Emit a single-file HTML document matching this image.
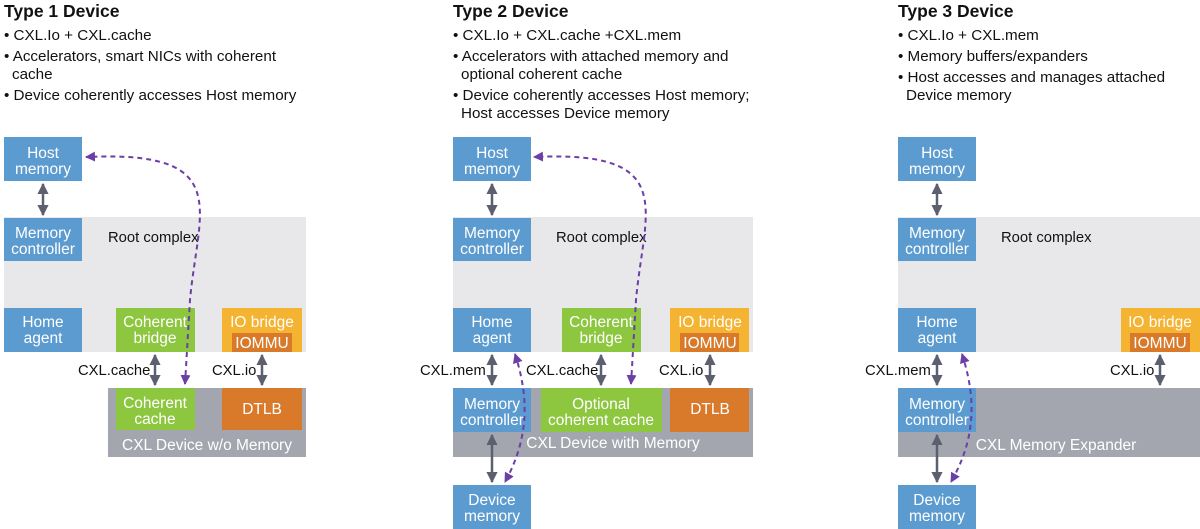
<!DOCTYPE html>
<html><head><meta charset="utf-8"><style>
html,body{margin:0;padding:0;background:#fff;}
svg{display:block;font-family:"Liberation Sans",sans-serif;}
.t{font-size:17.5px;font-weight:bold;fill:#111;}
.b{font-size:15.2px;fill:#111;}
.w{font-size:15.5px;fill:#fff;text-anchor:middle;}
.k{font-size:14.8px;fill:#111;}
.blue{fill:#5b9bd0;}
.green{fill:#8dc63f;}
.yel{fill:#f4b331;}
.org{fill:#d97a2b;}
.lg{fill:#e8e8ea;}
.dg{fill:#a3a6ae;}
.ga{stroke:#5c5f6e;stroke-width:2.5;fill:none;marker-start:url(#ag);marker-end:url(#ag);}
.pa{stroke:#6b3fa6;stroke-width:2;stroke-dasharray:5,4;fill:none;marker-start:url(#ap);marker-end:url(#ap);}
</style></head><body>
<svg width="1200" height="529" viewBox="0 0 1200 529" xmlns="http://www.w3.org/2000/svg">
<defs>
<marker id="ag" viewBox="0 0 10 10" refX="9" refY="5" markerWidth="4.5" markerHeight="4.5" orient="auto-start-reverse"><path d="M0,0 L10,5 L0,10 z" fill="#5c5f6e"/></marker>
<marker id="ap" viewBox="0 0 10 10" refX="9" refY="5" markerWidth="5" markerHeight="5" orient="auto-start-reverse"><path d="M0,0 L10,5 L0,10 z" fill="#6b3fa6"/></marker>
</defs>

<!-- ===== Panel 1 ===== -->
<text x="4" y="17" class="t">Type 1 Device</text>
<text x="4" y="40" class="b">• CXL.Io + CXL.cache</text>
<text x="4" y="61" class="b">• Accelerators, smart NICs with coherent</text>
<text x="12" y="79" class="b">cache</text>
<text x="4" y="100" class="b">• Device coherently accesses Host memory</text>

<rect x="4" y="217" width="302" height="135" class="lg"/>
<rect x="4" y="137" width="78" height="44" class="blue"/>
<text x="43" y="158" class="w">Host</text><text x="43" y="174" class="w">memory</text>
<rect x="4" y="218" width="78" height="43" class="blue"/>
<text x="43" y="238" class="w">Memory</text><text x="43" y="254" class="w">controller</text>
<text x="108" y="242" class="k">Root complex</text>
<rect x="4" y="308" width="78" height="44" class="blue"/>
<text x="43" y="327" class="w">Home</text><text x="43" y="343" class="w">agent</text>
<rect x="116" y="308" width="79" height="44" class="green"/>
<text x="155" y="327" class="w">Coherent</text><text x="155" y="343" class="w">bridge</text>
<rect x="222" y="308" width="80" height="44" class="yel"/>
<rect x="232" y="333" width="60" height="19" class="org"/>
<text x="262" y="327" class="w">IO bridge</text><text x="262" y="348" class="w">IOMMU</text>

<rect x="108" y="388" width="198" height="69" class="dg"/>
<rect x="116" y="388" width="79" height="42" class="green"/>
<text x="155" y="408" class="w">Coherent</text><text x="155" y="424" class="w">cache</text>
<rect x="222" y="388" width="80" height="42" class="org"/>
<text x="262" y="414" class="w">DTLB</text>
<text x="207" y="450" class="w">CXL Device w/o Memory</text>

<line x1="43" y1="184" x2="43" y2="215" class="ga"/>
<text x="78" y="375" class="k">CXL.cache</text>
<line x1="155" y1="355" x2="155" y2="385" class="ga"/>
<text x="212" y="375" class="k">CXL.io</text>
<line x1="262" y1="355" x2="262" y2="385" class="ga"/>
<path d="M185,384 L190,300 C198,210 235,150 86,157" class="pa"/>

<!-- ===== Panel 2 ===== -->
<text x="453" y="17" class="t">Type 2 Device</text>
<text x="453" y="40" class="b">• CXL.Io + CXL.cache +CXL.mem</text>
<text x="453" y="61" class="b">• Accelerators with attached memory and</text>
<text x="461" y="79" class="b">optional coherent cache</text>
<text x="453" y="100" class="b">• Device coherently accesses Host memory;</text>
<text x="461" y="118" class="b">Host accesses Device memory</text>

<rect x="453" y="217" width="300" height="135" class="lg"/>
<rect x="453" y="137" width="78" height="44" class="blue"/>
<text x="492" y="158" class="w">Host</text><text x="492" y="174" class="w">memory</text>
<rect x="453" y="218" width="78" height="43" class="blue"/>
<text x="492" y="238" class="w">Memory</text><text x="492" y="254" class="w">controller</text>
<text x="556" y="242" class="k">Root complex</text>
<rect x="453" y="308" width="78" height="44" class="blue"/>
<text x="492" y="327" class="w">Home</text><text x="492" y="343" class="w">agent</text>
<rect x="562" y="308" width="79" height="44" class="green"/>
<text x="601" y="327" class="w">Coherent</text><text x="601" y="343" class="w">bridge</text>
<rect x="670" y="308" width="79" height="44" class="yel"/>
<rect x="680" y="333" width="59" height="19" class="org"/>
<text x="710" y="327" class="w">IO bridge</text><text x="710" y="348" class="w">IOMMU</text>

<rect x="453" y="388" width="300" height="69" class="dg"/>
<rect x="453" y="388" width="78" height="44" class="blue"/>
<text x="492" y="409" class="w">Memory</text><text x="492" y="425" class="w">controller</text>
<rect x="541" y="388" width="121" height="44" class="green"/>
<text x="601" y="409" class="w">Optional</text><text x="601" y="425" class="w">coherent cache</text>
<rect x="670" y="388" width="79" height="44" class="org"/>
<text x="710" y="414" class="w">DTLB</text>
<text x="613" y="448" class="w">CXL Device with Memory</text>
<rect x="453" y="485" width="78" height="44" class="blue"/>
<text x="492" y="505" class="w">Device</text><text x="492" y="521" class="w">memory</text>

<line x1="492" y1="184" x2="492" y2="215" class="ga"/>
<text x="420" y="375" class="k">CXL.mem</text>
<line x1="492" y1="355" x2="492" y2="385" class="ga"/>
<text x="526" y="375" class="k">CXL.cache</text>
<line x1="601" y1="355" x2="601" y2="385" class="ga"/>
<text x="659" y="375" class="k">CXL.io</text>
<line x1="710" y1="355" x2="710" y2="385" class="ga"/>
<line x1="492" y1="435" x2="492" y2="482" class="ga"/>
<path d="M631,384 L636,300 C644,210 680,150 534,157" class="pa"/>
<path d="M515,354 C530,400 528,440 505,482" class="pa"/>

<!-- ===== Panel 3 ===== -->
<text x="898" y="17" class="t">Type 3 Device</text>
<text x="898" y="40" class="b">• CXL.Io + CXL.mem</text>
<text x="898" y="61" class="b">• Memory buffers/expanders</text>
<text x="898" y="82" class="b">• Host accesses and manages attached</text>
<text x="906" y="100" class="b">Device memory</text>

<rect x="898" y="217" width="302" height="135" class="lg"/>
<rect x="898" y="137" width="78" height="44" class="blue"/>
<text x="937" y="158" class="w">Host</text><text x="937" y="174" class="w">memory</text>
<rect x="898" y="218" width="78" height="43" class="blue"/>
<text x="937" y="238" class="w">Memory</text><text x="937" y="254" class="w">controller</text>
<text x="1001" y="242" class="k">Root complex</text>
<rect x="898" y="308" width="78" height="44" class="blue"/>
<text x="937" y="327" class="w">Home</text><text x="937" y="343" class="w">agent</text>
<rect x="1121" y="308" width="79" height="44" class="yel"/>
<rect x="1130" y="333" width="60" height="19" class="org"/>
<text x="1160" y="327" class="w">IO bridge</text><text x="1160" y="348" class="w">IOMMU</text>

<rect x="898" y="388" width="302" height="69" class="dg"/>
<rect x="898" y="388" width="78" height="44" class="blue"/>
<text x="937" y="409" class="w">Memory</text><text x="937" y="425" class="w">controller</text>
<text x="1056" y="450" class="w">CXL Memory Expander</text>
<rect x="898" y="485" width="78" height="44" class="blue"/>
<text x="937" y="505" class="w">Device</text><text x="937" y="521" class="w">memory</text>

<line x1="937" y1="184" x2="937" y2="215" class="ga"/>
<text x="865" y="375" class="k">CXL.mem</text>
<line x1="937" y1="355" x2="937" y2="385" class="ga"/>
<text x="1110" y="375" class="k">CXL.io</text>
<line x1="1160" y1="355" x2="1160" y2="385" class="ga"/>
<line x1="937" y1="435" x2="937" y2="482" class="ga"/>
<path d="M962,354 C977,400 975,440 951,482" class="pa"/>
</svg>
</body></html>
